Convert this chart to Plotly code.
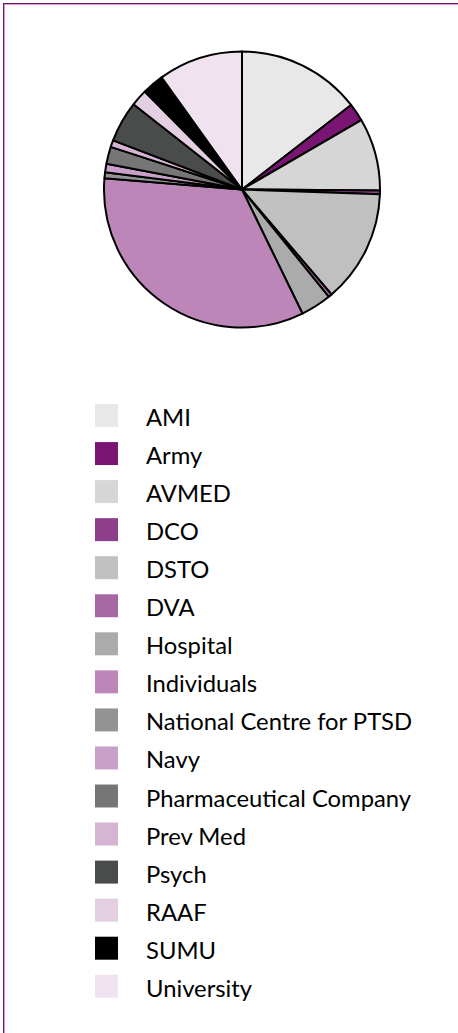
import plotly.graph_objects as go

# share of items by source (in percent)
sources = [
    "AMI", "Army", "AVMED", "DCO", "DSTO", "DVA", "Hospital", "Individuals",
    "National Centre for PTSD", "Navy", "Pharmaceutical Company", "Prev Med",
    "Psych", "RAAF", "SUMU", "University",
]
shares = [14.5, 2.1, 8.5, 0.45, 13.2, 0.42, 3.6, 33.5,
          0.7, 1.0, 2.0, 0.8, 4.8, 1.95, 2.55, 9.9]
colours = [
    "#e8e8e8", "#7b1574", "#d6d6d6", "#8e3f8c", "#c0c0c0", "#a668a3",
    "#ababab", "#bd86b8", "#939393", "#c9a0c9", "#767676", "#d6b4d4",
    "#4a4b4b", "#e2cfe2", "#000000", "#f0e3ef",
]

W, H = 458, 1033


def px_x(x):
    return x / W


def px_y(y):
    return 1 - y / H


fig = go.Figure(go.Pie(
    labels=sources,
    values=shares,
    sort=False,
    direction="clockwise",
    rotation=0,
    textinfo="none",
    hoverinfo="label+percent",
    marker=dict(colors=colours, line=dict(color="black", width=2)),
    domain=dict(x=[px_x(104), px_x(380)], y=[px_y(328), px_y(51)]),
    showlegend=False,
))

# frame on top and left edge, like the original page
shapes = [
    dict(type="line", xref="paper", yref="paper", x0=px_x(3), x1=1,
         y0=px_y(3.5), y1=px_y(3.5), line=dict(color="#6e1470", width=1)),
    dict(type="line", xref="paper", yref="paper", x0=px_x(3.5), x1=px_x(3.5),
         y0=0, y1=px_y(3), line=dict(color="#6e1470", width=1)),
    dict(type="line", xref="paper", yref="paper", x0=px_x(4), x1=1,
         y0=px_y(4.5), y1=px_y(4.5), line=dict(color="#cf9acc", width=1)),
    dict(type="line", xref="paper", yref="paper", x0=px_x(4.5), x1=px_x(4.5),
         y0=0, y1=px_y(4), line=dict(color="#cf9acc", width=1)),
]

# custom legend: big borderless swatches like the original
annotations = []
row0, step = 415.5, 38.05
for i, (name, col) in enumerate(zip(sources, colours)):
    yc = row0 + step * i
    shapes.append(dict(
        type="rect", xref="paper", yref="paper",
        x0=px_x(95), x1=px_x(118), y0=px_y(yc + 11.5), y1=px_y(yc - 11.5),
        fillcolor=col, line=dict(width=0),
    ))
    annotations.append(dict(
        text=name, xref="paper", yref="paper", x=px_x(144), y=px_y(yc + 1.5),
        xanchor="left", yanchor="middle", showarrow=False,
        font=dict(family="Lato", size=23.8, color="#000000"),
    ))

fig.update_layout(
    width=W, height=H,
    margin=dict(l=0, r=0, t=0, b=0),
    paper_bgcolor="white",
    plot_bgcolor="white",
    shapes=shapes,
    annotations=annotations,
)

fig.write_html(
    "out.html",
    config={"displayModeBar": False},
    post_script="document.body.style.margin='0';document.body.style.overflow='hidden';",
)
